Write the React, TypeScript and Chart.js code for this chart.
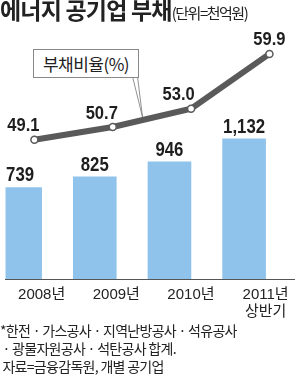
import React, { useEffect, useRef } from "react";
import { Chart, registerables } from "chart.js";

Chart.register(...registerables);

const categories: (string | string[])[] = ["2008년", "2009년", "2010년", ["2011년", "상반기"]];
const debt = [739, 825, 946, 1132];
const debtLabels = ["739", "825", "946", "1,132"];
const ratio = [49.1, 50.7, 53.0, 59.9];
const ratioLabels = ["49.1", "50.7", "53.0", "59.9"];

const NUM_FONT = "'Liberation Sans', 'Noto Sans CJK KR', sans-serif";
const KR_FONT = "'Noto Sans CJK KR', sans-serif";
const AXIS_FONT = "'Liberation Sans', 'Noto Sans CJK KR', sans-serif";

function squeezeText(ctx: any, txt: string, x: number, y: number, sx: number) {
  ctx.save();
  ctx.translate(x, y);
  ctx.scale(sx, 1);
  ctx.fillText(txt, 0, 0);
  ctx.restore();
}

const labelPlugin = {
  id: "valueLabels",
  afterDatasetsDraw(chart: any) {
    const ctx = chart.ctx;
    const barMeta = chart.getDatasetMeta(0);
    const lineMeta = chart.getDatasetMeta(1);
    ctx.save();
    // callout pointer from legend box to the line
    const p2 = lineMeta.data[1];
    const p3 = lineMeta.data[2];
    const t = 0.38;
    const tipX = p2.x + (p3.x - p2.x) * t;
    const tipY = p2.y + (p3.y - p2.y) * t - 3;
    ctx.strokeStyle = "#777";
    ctx.lineWidth = 0.8;
    ctx.fillStyle = "#fff";
    ctx.beginPath();
    ctx.moveTo(132.5, 76.5);
    ctx.lineTo(tipX, tipY);
    ctx.lineTo(137.5, 76.5);
    ctx.closePath();
    ctx.fill();
    ctx.beginPath();
    ctx.moveTo(132.5, 76.5);
    ctx.lineTo(tipX, tipY);
    ctx.lineTo(137.5, 76.5);
    ctx.stroke();

    ctx.fillStyle = "#1e1e1e";
    ctx.textAlign = "center";
    ctx.textBaseline = "middle";
    ctx.font = `bold 21px ${NUM_FONT}`;
    barMeta.data.forEach((el: any, i: number) => {
      squeezeText(ctx, debtLabels[i], el.x, el.y - 12, 0.8);
    });
    const offs = [[-11, -14], [-11, -13.5], [-12.5, -13.5], [0, -14.5]];
    ctx.font = `bold 19px ${NUM_FONT}`;
    lineMeta.data.forEach((el: any, i: number) => {
      squeezeText(ctx, ratioLabels[i], el.x + offs[i][0], el.y + offs[i][1], 0.87);
    });
    ctx.restore();
  },
};

export default function App() {
  const ref = useRef<HTMLCanvasElement>(null);
  useEffect(() => {
    if (!ref.current) return;
    const chart = new Chart(ref.current, {
      type: "bar",
      data: {
        datasets: [
          {
            type: "bar",
            data: debt.map((v, i) => ({ x: i, y: v })),
            backgroundColor: "#90c3eb",
            barThickness: 43,
            xAxisID: "x",
            yAxisID: "y",
            order: 2,
          },
          {
            type: "line",
            data: ratio.map((v, i) => ({ x: i, y: v })),
            borderColor: "#5a5a5a",
            borderWidth: 6,
            pointRadius: 3.5,
            pointBorderWidth: 1.5,
            pointBorderColor: "#5a5a5a",
            pointBackgroundColor: "#ffffff",
            tension: 0,
            xAxisID: "x2",
            yAxisID: "y2",
            order: 1,
          } as any,
        ],
      },
      options: {
        animation: false,
        responsive: false,
        layout: { padding: { top: 40, bottom: 12, left: 0, right: 0 } },
        plugins: { legend: { display: false }, tooltip: { enabled: false }, title: { display: false } },
        scales: {
          x: {
            type: "linear",
            min: -0.484,
            max: 3.387,
            offset: false,
            afterBuildTicks: (scale: any) => {
              scale.ticks = categories.map((_, i) => ({ value: i }));
            },
            ticks: {
              callback: (v: any) => categories[v as number] as any,
              font: { family: AXIS_FONT, size: 15, lineHeight: 1.1 },
              color: "#222",
              padding: 8,
              maxRotation: 0,
              autoSkip: false,
            },
            grid: { display: false, drawTicks: false },
            border: { display: true, color: "#555", width: 1 },
          },
          x2: {
            type: "linear",
            display: false,
            min: -0.369,
            max: 3.32,
            offset: false,
          },
          y: { display: false, min: 0, max: 1930 },
          y2: { display: false, min: 31.58, max: 61.65 },
        },
      },
      plugins: [labelPlugin],
    });
    return () => chart.destroy();
  }, []);

  return (
    <div style={{ position: "absolute", left: 0, top: 0, width: 300, height: 376, background: "#fff", overflow: "hidden", color: "#222" }}>
      <canvas ref={ref} width={300} height={340} style={{ position: "absolute", left: 0, top: 0 }} />
      <div style={{ position: "absolute", left: 0, top: -6, whiteSpace: "nowrap", fontFamily: KR_FONT, lineHeight: "30px" }}>
        <span style={{ fontSize: 23, fontWeight: 700, letterSpacing: -0.8 }}>에너지 공기업 부채</span>
        <span style={{ fontSize: 15, letterSpacing: -1.5 }}>(단위=천억원)</span>
      </div>
      <div style={{ position: "absolute", left: 33, top: 49, width: 104, height: 27, border: "1px solid #888", background: "#fff", fontFamily: KR_FONT, fontSize: 17, lineHeight: "27px", textAlign: "center", letterSpacing: -0.5 }}>
        부채비율(%)
      </div>
      <div style={{ position: "absolute", left: 0, top: 321, fontFamily: KR_FONT, fontSize: 14, lineHeight: "18px", letterSpacing: -0.7, whiteSpace: "pre" }}>
        <div>{"*한전 · 가스공사 · 지역난방공사 · 석유공사"}</div>
        <div>{" · 광물자원공사 · 석탄공사 합계."}</div>
        <div>{" 자료=금융감독원, 개별 공기업"}</div>
      </div>
    </div>
  );
}
